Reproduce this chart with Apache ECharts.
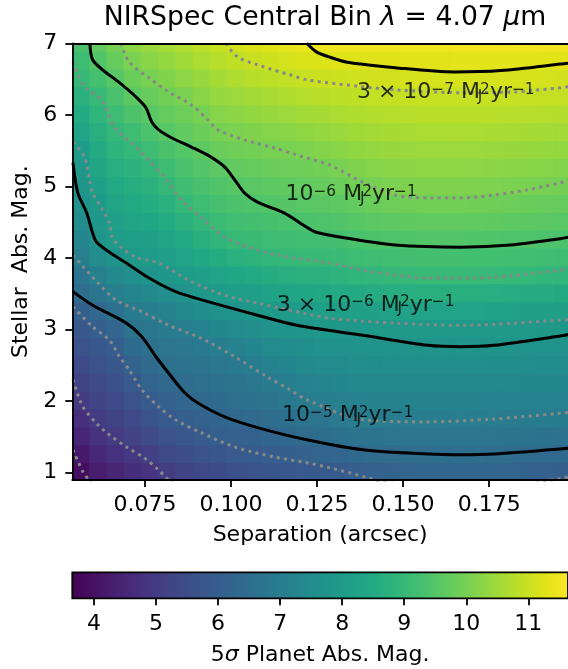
<!DOCTYPE html>
<html><head><meta charset="utf-8">
<script src="https://cdn.jsdelivr.net/npm/echarts@6/dist/echarts.min.js"></script>
<style>html,body{margin:0;padding:0;background:#fff}#chart{width:568px;height:669px}</style>
</head><body><div id="chart"></div>
<script>
// ---------------- data ----------------
// cell centres of the limiting-magnitude map
const sepCenters = [0.0565,0.0615,0.0665,0.0715,0.0765,0.0815,0.0865,0.0915,0.0965,0.1015,0.1065,0.1115,0.1165,0.1215,0.1265,0.1315,0.1365,0.1415,0.1465,0.1515,0.1565,0.1615,0.1665,0.1715,0.1765,0.1815,0.1865,0.1915,0.1965];
const starMagCenters = [7,6.75,6.5,6.25,6,5.75,5.5,5.25,5,4.75,4.5,4.25,4,3.75,3.5,3.25,3,2.75,2.5,2.25,2,1.75,1.5,1.25,1];
// 5-sigma planet abs. mag., one row per separation column (values listed from stellar mag 7 down to 1)
const limitMag = [
[9.30,9.15,9.00,8.76,8.52,8.27,8.02,7.91,7.82,7.70,7.49,7.28,7.07,6.79,6.47,6.09,5.84,5.64,5.43,5.23,5.02,4.75,4.48,4.20,3.93],
[9.69,9.46,9.24,9.01,8.84,8.67,8.50,8.33,8.16,7.99,7.88,7.77,7.49,7.15,6.76,6.34,6.04,5.83,5.64,5.45,5.26,5.06,4.82,4.55,4.29],
[9.98,9.75,9.52,9.30,9.12,8.96,8.80,8.64,8.48,8.32,8.16,8.00,7.72,7.40,7.09,6.60,6.26,6.03,5.83,5.63,5.43,5.23,5.03,4.77,4.50],
[10.27,10.05,9.82,9.60,9.38,9.15,8.95,8.79,8.62,8.46,8.30,8.14,7.94,7.61,7.27,6.95,6.68,6.42,6.16,5.90,5.66,5.43,5.19,4.94,4.69],
[10.44,10.22,10.00,9.78,9.56,9.35,9.13,8.92,8.75,8.57,8.39,8.21,8.03,7.73,7.40,7.08,6.84,6.62,6.41,6.19,5.97,5.69,5.41,5.13,4.85],
[10.56,10.35,10.14,9.93,9.74,9.54,9.34,9.14,8.94,8.73,8.53,8.32,8.11,7.86,7.54,7.22,6.94,6.74,6.54,6.34,6.14,5.92,5.64,5.36,5.08],
[10.70,10.49,10.27,10.05,9.86,9.69,9.51,9.34,9.16,8.98,8.74,8.51,8.27,8.03,7.70,7.36,7.03,6.82,6.63,6.44,6.25,6.06,5.81,5.52,5.24],
[10.83,10.62,10.41,10.20,9.99,9.82,9.64,9.47,9.30,9.12,8.92,8.67,8.41,8.15,7.85,7.51,7.16,6.90,6.71,6.52,6.33,6.15,5.94,5.65,5.37],
[10.95,10.76,10.56,10.37,10.17,9.98,9.80,9.62,9.45,9.27,9.10,8.87,8.57,8.28,7.99,7.66,7.33,7.01,6.81,6.62,6.43,6.24,6.04,5.78,5.49],
[11.06,10.86,10.66,10.45,10.25,10.05,9.87,9.70,9.53,9.36,9.19,9.02,8.71,8.39,8.08,7.77,7.47,7.18,6.92,6.72,6.52,6.32,6.12,5.88,5.60],
[11.19,10.97,10.76,10.54,10.33,10.11,9.92,9.75,9.58,9.41,9.24,9.07,8.81,8.48,8.15,7.85,7.58,7.32,7.05,6.82,6.61,6.40,6.18,5.95,5.67],
[11.25,11.03,10.82,10.60,10.39,10.17,9.97,9.80,9.63,9.46,9.29,9.12,8.91,8.57,8.23,7.92,7.68,7.43,7.19,6.94,6.71,6.48,6.25,6.01,5.76],
[11.33,11.11,10.89,10.67,10.45,10.23,10.02,9.84,9.67,9.50,9.33,9.16,8.98,8.64,8.30,7.97,7.75,7.52,7.30,7.07,6.83,6.57,6.32,6.07,5.81],
[11.40,11.18,10.96,10.74,10.52,10.30,10.08,9.89,9.72,9.55,9.37,9.20,9.03,8.72,8.37,8.03,7.81,7.60,7.39,7.18,6.97,6.69,6.41,6.13,5.85],
[11.43,11.21,11.00,10.79,10.57,10.36,10.15,9.94,9.76,9.58,9.40,9.22,9.04,8.75,8.42,8.10,7.86,7.67,7.46,7.26,7.05,6.78,6.49,6.19,5.90],
[11.44,11.24,11.03,10.83,10.63,10.42,10.22,10.02,9.83,9.64,9.45,9.26,9.07,8.80,8.47,8.14,7.89,7.69,7.50,7.31,7.12,6.88,6.58,6.27,5.97],
[11.44,11.25,11.06,10.87,10.68,10.49,10.30,10.11,9.92,9.72,9.52,9.32,9.12,8.87,8.52,8.17,7.91,7.72,7.54,7.36,7.17,6.98,6.67,6.35,6.04],
[11.44,11.26,11.08,10.90,10.72,10.54,10.36,10.18,10.01,9.80,9.59,9.38,9.16,8.92,8.56,8.21,7.92,7.74,7.56,7.38,7.20,7.01,6.72,6.41,6.11],
[11.44,11.27,11.09,10.92,10.75,10.58,10.40,10.23,10.06,9.86,9.64,9.42,9.20,8.97,8.60,8.23,7.93,7.75,7.57,7.38,7.20,7.02,6.74,6.45,6.16],
[11.45,11.28,11.11,10.94,10.77,10.60,10.43,10.26,10.09,9.90,9.67,9.45,9.22,9.00,8.63,8.25,7.94,7.76,7.57,7.39,7.21,7.02,6.76,6.48,6.20],
[11.46,11.29,11.12,10.95,10.78,10.62,10.45,10.28,10.11,9.92,9.70,9.47,9.25,9.03,8.66,8.27,7.94,7.76,7.58,7.40,7.21,7.03,6.77,6.49,6.22],
[11.46,11.29,11.12,10.95,10.78,10.62,10.45,10.28,10.11,9.92,9.70,9.47,9.25,9.03,8.66,8.28,7.95,7.76,7.58,7.40,7.21,7.03,6.78,6.50,6.23],
[11.47,11.30,11.13,10.95,10.78,10.62,10.45,10.28,10.11,9.92,9.70,9.47,9.25,9.03,8.66,8.28,7.95,7.76,7.58,7.40,7.21,7.02,6.77,6.51,6.24],
[11.48,11.30,11.13,10.96,10.79,10.62,10.44,10.27,10.10,9.90,9.68,9.46,9.23,9.02,8.65,8.27,7.95,7.76,7.57,7.38,7.20,7.01,6.76,6.50,6.24],
[11.48,11.30,11.13,10.95,10.78,10.61,10.43,10.26,10.08,9.89,9.67,9.45,9.23,9.01,8.64,8.26,7.94,7.75,7.56,7.37,7.18,7.00,6.74,6.48,6.22],
[11.49,11.31,11.13,10.95,10.77,10.59,10.41,10.23,10.06,9.85,9.63,9.42,9.20,8.98,8.61,8.24,7.93,7.74,7.55,7.36,7.17,6.98,6.72,6.45,6.19],
[11.49,11.31,11.12,10.94,10.76,10.57,10.39,10.21,10.03,9.82,9.61,9.40,9.19,8.96,8.59,8.21,7.92,7.73,7.54,7.35,7.16,6.97,6.69,6.43,6.17],
[11.48,11.29,11.11,10.92,10.74,10.55,10.37,10.18,10.00,9.79,9.58,9.37,9.16,8.92,8.56,8.19,7.91,7.72,7.53,7.33,7.14,6.95,6.66,6.39,6.12],
[11.47,11.28,11.09,10.91,10.72,10.53,10.34,10.15,9.96,9.76,9.55,9.35,9.14,8.88,8.52,8.17,7.90,7.71,7.51,7.32,7.13,6.94,6.63,6.35,6.08]
];
const colorRange = [3.65, 11.64];
const sepTicks = [0.075, 0.100, 0.125, 0.150, 0.175];
const starTicks = [1, 2, 3, 4, 5, 6, 7];
const cbarTicks = [4, 5, 6, 7, 8, 9, 10, 11];

// accretion-rate contours (solid, labelled)  [separation, stellar mag]
const acc3e7 = [[0.1220,7.00],[0.1248,6.88],[0.1285,6.81],[0.1334,6.74],[0.1477,6.66],[0.1649,6.60],[0.1784,6.62],[0.1958,6.71],[0.1990,6.73]];
const acc1e6 = [[0.0590,7.00],[0.0598,6.77],[0.0627,6.63],[0.0676,6.45],[0.0724,6.25],[0.0753,6.10],[0.0770,5.90],[0.0790,5.79],[0.0827,5.68],[0.0885,5.55],[0.0942,5.41],[0.0982,5.27],[0.1011,5.09],[0.1039,4.91],[0.1077,4.78],[0.1154,4.63],[0.1220,4.43],[0.1248,4.36],[0.1334,4.28],[0.1477,4.18],[0.1669,4.15],[0.1813,4.18],[0.1956,4.27],[0.1990,4.30]];
const acc3e6 = [[0.0541,5.33],[0.0555,4.91],[0.0581,4.63],[0.0598,4.35],[0.0610,4.22],[0.0647,4.08],[0.0696,3.93],[0.0762,3.72],[0.0839,3.53],[0.0933,3.39],[0.1077,3.20],[0.1191,3.06],[0.1383,2.92],[0.1572,2.78],[0.1669,2.76],[0.1764,2.78],[0.1956,2.91],[0.1990,2.94]];
const acc1e5 = [[0.0541,3.53],[0.0598,3.34],[0.0696,3.09],[0.0741,2.90],[0.0782,2.62],[0.0827,2.34],[0.0867,2.11],[0.0905,1.97],[0.0982,1.78],[0.1077,1.63],[0.1220,1.46],[0.1383,1.32],[0.1572,1.26],[0.1669,1.25],[0.1764,1.26],[0.1956,1.33],[0.1990,1.35]];
// planet-magnitude contours (dotted): mag 11 ... 4
const mag11 = [[0.0985,7.00],[0.1019,6.81],[0.1077,6.70],[0.1171,6.56],[0.1220,6.49],[0.1369,6.40],[0.1477,6.35],[0.1669,6.31],[0.1821,6.32],[0.1958,6.38],[0.1990,6.40]];
const mag10 = [[0.0681,7.00],[0.0704,6.74],[0.0761,6.52],[0.0819,6.32],[0.0885,6.14],[0.0933,5.93],[0.0962,5.79],[0.1039,5.65],[0.1125,5.54],[0.1191,5.44],[0.1286,5.30],[0.1383,5.06],[0.1477,4.88],[0.1572,4.84],[0.1669,4.84],[0.1764,4.88],[0.1858,4.95],[0.1956,5.05],[0.1990,5.09]];
const mag9 = [[0.0541,6.74],[0.0575,6.39],[0.0624,6.21],[0.0661,5.83],[0.0710,5.61],[0.0761,5.37],[0.0813,5.09],[0.0856,4.81],[0.0913,4.57],[0.0982,4.29],[0.1077,4.11],[0.1171,4.01],[0.1286,3.93],[0.1383,3.83],[0.1477,3.76],[0.1572,3.72],[0.1669,3.72],[0.1764,3.73],[0.1958,3.83],[0.1990,3.85]];
const mag8 = [[0.0541,5.62],[0.0575,5.41],[0.0590,5.06],[0.0598,4.91],[0.0627,4.67],[0.0647,4.49],[0.0655,4.29],[0.0681,4.15],[0.0724,4.01],[0.0790,3.93],[0.0885,3.67],[0.0982,3.48],[0.1077,3.37],[0.1171,3.27],[0.1286,3.16],[0.1477,3.09],[0.1669,3.06],[0.1958,3.13],[0.1990,3.14]];
const mag7 = [[0.0541,4.04],[0.0610,3.67],[0.0667,3.41],[0.0741,3.25],[0.0819,3.06],[0.0913,2.88],[0.1011,2.62],[0.1105,2.34],[0.1171,2.16],[0.1220,2.02],[0.1383,1.74],[0.1572,1.71],[0.1764,1.75],[0.1956,1.83],[0.1990,1.85]];
const mag6 = [[0.0541,3.32],[0.0598,3.04],[0.0647,2.85],[0.0676,2.62],[0.0704,2.44],[0.0741,2.16],[0.0790,1.92],[0.0839,1.74],[0.0913,1.56],[0.1011,1.36],[0.1125,1.22],[0.1220,1.14],[0.1286,1.07],[0.1397,0.93],[0.1434,0.88],[0.1563,0.80],[0.1669,0.77],[0.1821,0.81],[0.1958,0.92],[0.1990,0.95]];
const mag5 = [[0.0541,2.30],[0.0570,1.92],[0.0613,1.67],[0.0644,1.54],[0.0696,1.36],[0.0747,1.21],[0.0787,1.05],[0.0819,0.90],[0.0862,0.76]];
const mag4 = [[0.0541,1.32],[0.0570,1.01],[0.0587,0.90],[0.0604,0.79]];

// contour labels: text + anchor [separation, stellar mag]
const contourLabelText = [
  '{b|3 × 10}{s|−7}{m|M}{j|J}{s|2}{b|yr}{s|−1}',
  '{b|10}{s|−6}{m|M}{j|J}{s|2}{b|yr}{s|−1}',
  '{b|3 × 10}{s|−6}{m|M}{j|J}{s|2}{b|yr}{s|−1}',
  '{b|10}{s|−5}{m|M}{j|J}{s|2}{b|yr}{s|−1}'
];
const contourLabelAnchor = [[0.1624,6.30],[0.1349,4.88],[0.1391,3.33],[0.1339,1.79]];

// ---------------- styling ----------------
const FONT = 'DejaVu Sans';
const viridis = ['#440154','#471365','#482475','#463480','#414487','#3b528b','#355f8d','#2f6c8e','#2a788e','#25848e','#21918c','#1e9c89','#22a884','#2fb47c','#44bf70','#5ec962','#7ad151','#9bd93c','#bddf26','#dfe318','#fde725'];
const CELL_HALF_X = 0.0025, CELL_HALF_Y = 0.125;

const heatData = [];
sepCenters.forEach((s, i) => starMagCenters.forEach((m, j) => heatData.push([s, m, limitMag[i][j]])));

const chart = echarts.init(document.getElementById('chart'), null, {renderer: 'canvas', width: 568, height: 669});

function renderCell(params, api) {
  const x = api.value(0), y = api.value(1);
  const p0 = api.coord([x - CELL_HALF_X, y + CELL_HALF_Y]);
  const p1 = api.coord([x + CELL_HALF_X, y - CELL_HALF_Y]);
  const cs = params.coordSys;
  const r = echarts.graphic.clipRectByRect(
    {x: p0[0] - 0.5, y: p0[1] - 0.5, width: p1[0] - p0[0] + 1, height: p1[1] - p0[1] + 1},
    {x: cs.x, y: cs.y, width: cs.width, height: cs.height});
  if (!r) return null;
  return {type: 'rect', shape: r, style: {fill: api.visual('color')}};
}

function renderColorbar(params, api) {
  const p0 = api.coord([api.value(0), 1]);
  const p1 = api.coord([api.value(1), 0]);
  return {type: 'rect', shape: {x: p0[0], y: p0[1], width: p1[0] - p0[0], height: p1[1] - p0[1]},
    style: {fill: new echarts.graphic.LinearGradient(0, 0, 1, 0, viridis.map((c, k) => ({offset: k / (viridis.length - 1), color: c}))),
      stroke: '#000', lineWidth: 1.8}};
}

const axisBlack = {color: '#000', width: 1.8};
const tickFont = {fontSize: 22, fontFamily: FONT, color: '#000'};

function solid(data) {
  return {type: 'line', data: data, showSymbol: false, smooth: 0.3, clip: true, z: 4, silent: true,
    lineStyle: {color: '#000', width: 3}};
}
function dotted(data) {
  return {type: 'line', data: data, showSymbol: false, smooth: 0.3, clip: true, z: 3, silent: true,
    lineStyle: {color: '#888888', width: 3, type: [3, 4.3], cap: 'butt'}};
}

const labelRich = {
  b: {fontSize: 22, fontFamily: FONT, color: '#000', lineHeight: 22, padding: [3, 0, 5, 0]},
  m: {fontSize: 22, fontFamily: FONT, color: '#000', lineHeight: 22, padding: [3, 0, 5, 7]},
  s: {fontSize: 15.4, fontFamily: FONT, color: '#000', lineHeight: 16, verticalAlign: 'top'},
  j: {fontSize: 15.4, fontFamily: FONT, color: '#000', lineHeight: 16, verticalAlign: 'bottom', width: 0.1}
};

const option = {
  animation: false,
  textStyle: {fontFamily: FONT},
  graphic: [{
    type: 'text', x: 325, y: 18.5, z: 100,
    style: {
      text: '{n|NIRSpec Central Bin }{i|λ}{n| = 4.07 }{i|μ}{n|m}',
      align: 'center', verticalAlign: 'middle', fill: '#000', fontSize: 26.7, fontFamily: FONT,
      rich: {
        n: {fontSize: 26.7, fontFamily: FONT, fill: '#000', color: '#000'},
        i: {fontSize: 26.7, fontFamily: FONT, fontStyle: 'italic', fill: '#000', color: '#000'}
      }
    }
  }],
  grid: [
    {left: 72.3, top: 43.3, width: 502.7, height: 436.7},
    {left: 72.3, top: 572.3, width: 502.7, height: 26}
  ],
  visualMap: {
    type: 'continuous', show: false, seriesIndex: 0, dimension: 2,
    min: colorRange[0], max: colorRange[1], inRange: {color: viridis}
  },
  xAxis: [
    {type: 'value', gridIndex: 0, min: 0.0539, max: 0.1979, z: 10,
      axisLine: {show: true, onZero: false, lineStyle: axisBlack},
      axisTick: {show: true, length: 7, lineStyle: axisBlack, customValues: sepTicks},
      axisLabel: Object.assign({margin: 14, customValues: sepTicks, formatter: v => v.toFixed(3)}, tickFont),
      splitLine: {show: false},
      name: 'Separation (arcsec)', nameLocation: 'middle', nameGap: 44,
      nameTextStyle: {fontSize: 22, fontFamily: FONT, color: '#000'}},
    {type: 'value', gridIndex: 0, position: 'top', min: 0.0539, max: 0.1979, z: 10,
      axisLine: {show: true, onZero: false, lineStyle: axisBlack},
      axisTick: {show: false}, axisLabel: {show: false}, splitLine: {show: false}},
    {type: 'value', gridIndex: 1, min: colorRange[0], max: colorRange[1], z: 10,
      axisLine: {show: false},
      axisTick: {show: true, length: 7, lineStyle: axisBlack, customValues: cbarTicks},
      axisLabel: Object.assign({margin: 15, customValues: cbarTicks}, tickFont),
      splitLine: {show: false},
      name: '5{i|σ}{n| Planet Abs. Mag.}', nameLocation: 'middle', nameGap: 46,
      nameTextStyle: {fontSize: 22, fontFamily: FONT, color: '#000',
        rich: {i: {fontSize: 22, fontFamily: FONT, fontStyle: 'italic', color: '#000'},
               n: {fontSize: 22, fontFamily: FONT, color: '#000'}}}}
  ],
  yAxis: [
    {type: 'value', gridIndex: 0, min: 0.898, max: 7.0, z: 10,
      axisLine: {show: true, onZero: false, lineStyle: axisBlack},
      axisTick: {show: true, length: 7, lineStyle: axisBlack, customValues: starTicks},
      axisLabel: Object.assign({margin: 15, customValues: starTicks}, tickFont),
      splitLine: {show: false},
      name: 'Stellar  Abs. Mag.', nameLocation: 'middle', nameGap: 39, nameRotate: 90,
      nameTextStyle: {fontSize: 22, fontFamily: FONT, color: '#000'}},
    {type: 'value', gridIndex: 1, min: 0, max: 1, show: false}
  ],
  series: [
    {type: 'custom', xAxisIndex: 0, yAxisIndex: 0, data: heatData, renderItem: renderCell,
      encode: {x: 0, y: 1}, z: 1, silent: true},
    dotted(mag11), dotted(mag10), dotted(mag9), dotted(mag8), dotted(mag7), dotted(mag6), dotted(mag5), dotted(mag4),
    solid(acc3e7), solid(acc1e6), solid(acc3e6), solid(acc1e5),
    {type: 'scatter', xAxisIndex: 0, yAxisIndex: 0, data: contourLabelAnchor, symbol: 'circle', symbolSize: 2,
      itemStyle: {color: 'rgba(0,0,0,0)'}, z: 6, silent: true,
      label: {show: true, position: 'inside', color: '#000', formatter: p => contourLabelText[p.dataIndex], rich: labelRich}},
    {type: 'custom', xAxisIndex: 2, yAxisIndex: 1, data: [[colorRange[0], colorRange[1], 0, 1]],
      renderItem: renderColorbar, encode: {x: [0, 1], y: [2, 3]}, z: 1, silent: true}
  ]
};
chart.setOption(option);
</script>
</body></html>
